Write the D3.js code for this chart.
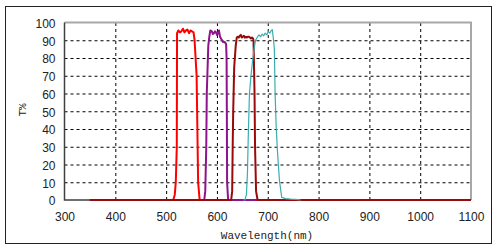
<!DOCTYPE html>
<html>
<head>
<meta charset="utf-8">
<script src="https://cdn.jsdelivr.net/npm/d3@7"></script>
<style>
  body { margin: 0; background: #fff; }
  .tick text { font-family: "Liberation Sans", Arial, sans-serif; font-size: 12px; fill: #222; }
  .grid line { stroke: #000; stroke-width: 1; stroke-dasharray: 3,3; }
  .grid .domain { display: none; }
</style>
</head>
<body>
<svg id="chart" width="499" height="249"></svg>
<script>
// axis ticks
var xTicks = [300, 400, 500, 600, 700, 800, 900, 1000, 1100];
var yTicks = [0, 10, 20, 30, 40, 50, 60, 70, 80, 90, 100];

// red filter
var redWl = [350, 500, 514, 517, 519, 521, 521.5, 524, 527, 530, 533, 536, 539, 542, 545, 548, 551, 554, 556, 558, 560, 561, 562, 563, 566, 600, 1100];
var redT  = [0, 0, 0, 3, 10, 30, 94, 95.5, 94.5, 95, 96.5, 94.5, 95.5, 96, 94, 95.5, 95, 94.5, 90, 80, 70, 50, 30, 10, 0, 0, 0];

// purple filter
var purpleWl = [350, 570, 575, 577, 579, 580, 583, 585, 587, 590, 592, 594, 596, 598, 600, 602, 604, 606, 608, 610, 612, 615, 618, 619, 619.5, 620, 622, 640, 1100];
var purpleT  = [0, 0, 0, 5, 30, 60, 87, 92, 95.5, 95, 93.5, 94, 95, 94.5, 93, 94, 95.5, 92, 91, 90, 89, 89, 88, 80, 50, 10, 0, 0, 0];

// dark red filter
var brownWl = [350, 625, 628, 630, 631, 632, 634, 637, 639, 641, 643, 645, 647, 649, 651, 653, 655, 657, 659, 661, 663, 665, 667, 669, 671, 672, 674, 675, 677, 680, 700, 1100];
var brownT  = [0, 0, 0, 5, 30, 50, 75, 87, 91.5, 92, 91.5, 92.5, 93, 91.5, 92, 92.5, 91.5, 92, 91.5, 92, 92, 91.5, 91, 91.5, 91, 90, 60, 30, 5, 0, 0, 0];

// teal filter
var tealWl = [652, 655, 658, 660, 662, 664, 667, 670, 673, 676, 680, 683, 686, 689, 692, 695, 698, 701, 704, 707, 709, 711, 713, 714.5, 716.5, 719, 723, 727.5, 735, 745, 755, 765];
var tealT  = [0, 0, 3, 15, 40, 60, 70, 78, 85, 90, 92, 93, 92, 93.5, 92.5, 94, 93, 95, 94, 95.5, 96, 91, 85, 60, 42, 28, 11, 1.5, 0.8, 0.5, 0.3, 0];

var series = [
  {wl: redWl, t: redT, color: "#ff0000", w: 2},
  {wl: purpleWl, t: purpleT, color: "#8e138e", w: 2},
  {wl: brownWl, t: brownT, color: "#990a0a", w: 2},
  {wl: tealWl, t: tealT, color: "#3aaeae", w: 1.2}
];

var svg = d3.select("#chart");
var pLeft = 64.5, pRight = 471, pTop = 22.5, pBottom = 200;

var x = d3.scaleLinear().domain([300, 1100]).range([pLeft, pRight]);
var y = d3.scaleLinear().domain([0, 100]).range([pBottom, pTop]);

// outer frame
svg.append("rect")
    .attr("x", 5.5).attr("y", 6.5)
    .attr("width", 486).attr("height", 237)
    .attr("fill", "#fff")
    .attr("stroke", "#222")
    .attr("stroke-width", 1);

// grid lines
svg.append("g")
    .attr("class", "grid")
    .attr("transform", "translate(0," + pBottom + ")")
    .call(d3.axisBottom(x).tickValues(xTicks.slice(1, -1)).tickSize(-(pBottom - pTop)).tickFormat(""));

svg.append("g")
    .attr("class", "grid")
    .attr("transform", "translate(" + pLeft + ",0)")
    .call(d3.axisLeft(y).tickValues(yTicks.slice(1, -1)).tickSize(-(pRight - pLeft)).tickFormat(""));

// plot border: light top/right, dark left/bottom
svg.append("path")
    .attr("d", "M" + pLeft + "," + pTop + "H" + pRight + "V" + pBottom)
    .attr("fill", "none")
    .attr("stroke", "#a8a8a8")
    .attr("stroke-width", 2);
svg.append("path")
    .attr("d", "M" + pLeft + "," + pTop + "V" + pBottom + "H" + pRight)
    .attr("fill", "none")
    .attr("stroke", "#404040")
    .attr("stroke-width", 1.5);

// curves
var line = d3.line()
    .x(function(d) { return x(d[0]); })
    .y(function(d) { return y(d[1]); });

series.forEach(function(s) {
  var pts = s.wl.map(function(w, i) { return [w, s.t[i]]; });
  svg.append("path")
      .datum(pts)
      .attr("d", line)
      .attr("fill", "none")
      .attr("stroke", s.color)
      .attr("stroke-width", s.w)
      .attr("stroke-linejoin", "round");
});

// tick labels
var xAxis = svg.append("g")
    .attr("transform", "translate(0," + (pBottom + 9) + ")")
    .call(d3.axisBottom(x).tickValues(xTicks).tickSize(0).tickFormat(d3.format("d")));
xAxis.select(".domain").remove();

var yAxis = svg.append("g")
    .attr("transform", "translate(" + (pLeft - 6) + ",0)")
    .call(d3.axisLeft(y).tickValues(yTicks).tickSize(0).tickFormat(d3.format("d")));
yAxis.select(".domain").remove();
yAxis.selectAll("text").attr("dy", "0.4em");

// axis titles
svg.append("text")
    .attr("x", 267)
    .attr("y", 239)
    .attr("text-anchor", "middle")
    .style("font-family", "'Liberation Mono', 'DejaVu Sans Mono', monospace")
    .style("font-size", "11px")
    .style("fill", "#222")
    .text("Wavelength(nm)");

svg.append("text")
    .attr("transform", "translate(26,110) rotate(-90)")
    .attr("text-anchor", "middle")
    .style("font-family", "'Liberation Mono', 'DejaVu Sans Mono', monospace")
    .style("font-size", "11px")
    .style("fill", "#222")
    .text("T%");
</script>
</body>
</html>
